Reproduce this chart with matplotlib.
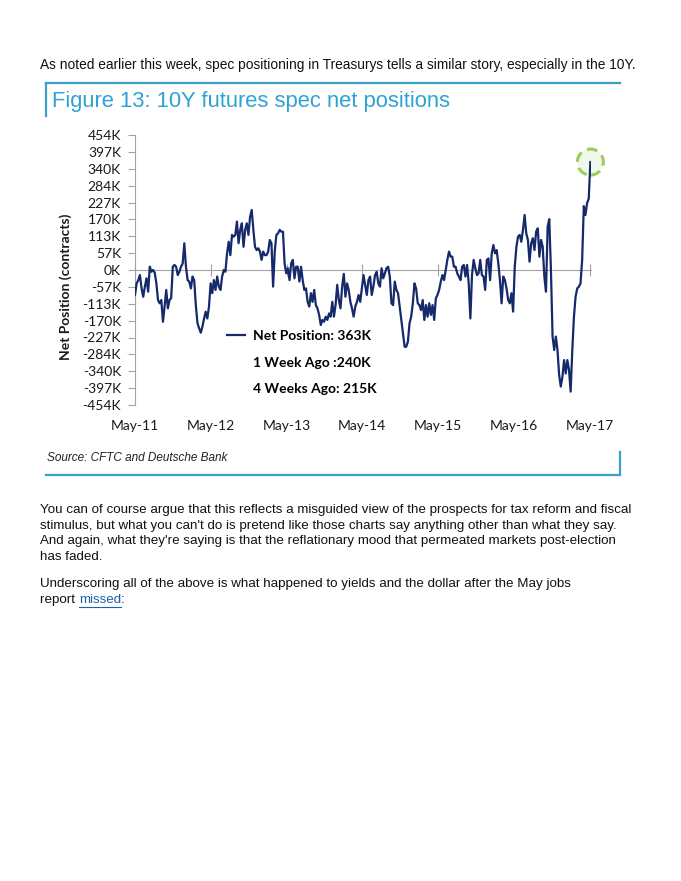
import numpy as np
import pandas as pd
import matplotlib
matplotlib.use('Agg')
import matplotlib.pyplot as plt
import matplotlib.dates as mdates
import matplotlib.transforms as mtransforms
from matplotlib.lines import Line2D
from matplotlib.patches import Circle

# ── data (net position, thousands of contracts) ─────────────
net_k = [
    -84, -45, -34, -17, -62, -90, -56, -28, -73, 11, -6, 0, -9, -45, -101, -112,
    -101, -174, -123, -67, -129, -101, -95, 11, 17, 11, -17, -6, 11, 22, 90, 11,
    -34, -39, -62, -22, -34, -118, -179, -196, -211, -191, -163, -140, -163, -123,
    -45, -78, -34, -67, -22, -56, -67, -22, 0, -6, 56, 95, 50, 118, 112, 118, 163,
    90, 135, 157, 78, 135, 157, 118, 179, 202, 135, 78, 67, 73, 62, 34, 62, 50, 50,
    62, 101, 90, -56, 62, 118, 123, 135, 129, 129, 22, -11, 6, -34, 22, 34, -28,
    11, 11, -39, 11, -34, -67, -62, -107, -123, -78, -107, -67, -118, -129, -151,
    -185, -168, -174, -157, -168, -146, -157, -107, -157, -118, -50, -101, -129,
    -56, -13, -90, -45, -67, -107, -129, -157, -123, -107, -84, -107, -62, -17,
    -50, -84, -34, -22, -84, -56, -17, -6, -45, -56, 6, -28, -11, 6, 11, -22, -112,
    -118, -39, -67, -78, -123, -168, -213, -258, -258, -241, -179, -157, -112, -45,
    -62, -112, -118, -135, -101, -168, -118, -157, -112, -151, -118, -168, -95,
    -84, -67, -39, -17, -34, 0, 34, 62, 45, 45, 11, 11, -11, -22, -34, 11, 17, -22,
    17, -45, -163, -17, 34, 6, -17, -11, 34, -17, -22, -67, 34, 39, -34, 56, 84,
    56, 67, 22, -34, -112, -22, -34, -62, -101, -112, -78, -140, 11, 78, 112, 118,
    95, 135, 185, 123, 101, 28, 90, 107, 67, 129, 140, 45, 101, 78, -22, -73, 146,
    171, 0, -224, -269, -224, -269, -353, -392, -359, -303, -348, -303, -336, -409,
    -269, -157, -90, -62, -56, -45, 34, 215, 185, 225, 240, 363,
]
start_date = '2011-05-01'
end_date = '2017-05-05'
tick_years = [2011, 2012, 2013, 2014, 2015, 2016, 2017]
tick_labels = ['May-11', 'May-12', 'May-13', 'May-14', 'May-15', 'May-16', 'May-17']
y_ticks = np.arange(-8, 9) * 56.75
y_labels = ['-454K', '-397K', '-340K', '-284K', '-227K', '-170K', '-113K', '-57K', '0K',
            '57K', '113K', '170K', '227K', '284K', '340K', '397K', '454K']
legend_rows = ['Net Position: 363K', '1 Week Ago :240K', '4 Weeks Ago: 215K']

dates = pd.date_range(start_date, end_date, periods=len(net_k))
xs = mdates.date2num(dates.to_pydatetime())
x_ticks = mdates.date2num([pd.Timestamp(f'{y}-05-01').to_pydatetime() for y in tick_years])

W, H = 681, 881
def fx(px): return px / W
def fy(py): return 1 - py / H

NAVY = '#15296b'
GRAY = '#a3a3a3'
BLUE = '#3a9fcb'
PAGE_FONT = ['Liberation Sans']
CHART_FONT = ['Lato', 'DejaVu Sans']
BODY_SIZE = 9.65

fig = plt.figure(figsize=(W / 100, H / 100), dpi=100)
fig.patch.set_facecolor('white')

# ── page text ───────────────────────────────────────────────
fig.text(fx(40), fy(65), 'As noted earlier this week, spec positioning in Treasurys tells a similar story, especially in the 10Y.',
         family=PAGE_FONT, fontsize=9.9, color='#111111', va='center', ha='left')

# figure frame
fig.add_artist(Line2D([fx(46), fx(620)], [fy(83), fy(83)], color=BLUE, lw=1.6))
fig.add_artist(Line2D([fx(46), fx(46)], [fy(83), fy(116)], color=BLUE, lw=1.6))
fig.add_artist(Line2D([fx(46), fx(620)], [fy(475), fy(475)], color=BLUE, lw=1.6))
fig.add_artist(Line2D([fx(620), fx(620)], [fy(452), fy(475)], color=BLUE, lw=1.6))
fig.text(fx(52), fy(101), 'Figure 13: 10Y futures spec net positions', family=PAGE_FONT,
         fontsize=15.8, color='#2fa2d4', va='center', ha='left')
fig.text(fx(47), fy(458), 'Source: CFTC and Deutsche Bank', family=PAGE_FONT, style='italic',
         fontsize=8.5, color='#222222', va='center', ha='left')

# ── chart ───────────────────────────────────────────────────
ax = fig.add_axes([fx(135), fy(405), fx(591) - fx(135), fy(135) - fy(405)])
ax.plot(xs, net_k, color=NAVY, lw=1.6, zorder=3, solid_joinstyle='round')
ax.set_xlim(xs[0], xs[-1] + 3)
ax.set_ylim(-454, 454)

for s in ['top', 'right']:
    ax.spines[s].set_visible(False)
ax.spines['left'].set_color(GRAY)
ax.spines['bottom'].set_position(('data', 0))
ax.spines['bottom'].set_color(GRAY)

ax.set_yticks(y_ticks, labels=y_labels)
ax.tick_params(axis='y', direction='out', length=5, color=GRAY, pad=5,
               labelsize=10, labelcolor='#1a1a1a')
for lab in ax.get_yticklabels():
    lab.set_family(CHART_FONT)
ax.set_xticks(x_ticks)
ax.tick_params(axis='x', direction='inout', length=8, color=GRAY, labelbottom=False)

sec = ax.secondary_xaxis(0.0)
sec.set_xticks(x_ticks, labels=tick_labels)
sec.tick_params(length=0, pad=11, labelsize=10, labelcolor='#1a1a1a')
sec.spines['bottom'].set_visible(False)
for lab in sec.get_xticklabels():
    lab.set_family(CHART_FONT)

fig.text(fx(66), fy(287), 'Net Position (contracts)', rotation=90, family=CHART_FONT,
         fontweight='bold', fontsize=10, color='#1a1a1a', ha='center', va='center')

# highlight circle around the latest reading
trans = fig.dpi_scale_trans + mtransforms.ScaledTranslation(xs[-1], net_k[-1], ax.transData)
ax.add_patch(Circle((0, 0), 0.13, transform=trans, facecolor='#f1f7ea', edgecolor='#9ccd5e',
                    lw=2.2, linestyle=(0, (3.5, 2)), zorder=2, clip_on=False))

# legend-like annotation
handles = [Line2D([], [], color=NAVY, lw=1.6),
           Line2D([], [], color='none'),
           Line2D([], [], color='none')]
leg = ax.legend(handles, legend_rows, loc='upper left', frameon=False,
                bbox_to_anchor=(fx(227), fy(330)), bbox_transform=fig.transFigure,
                borderpad=0, borderaxespad=0, handlelength=1.3, handletextpad=0.55,
                labelspacing=1.05, prop={'family': CHART_FONT, 'weight': 'bold', 'size': 10})

# ── body text ───────────────────────────────────────────────
body = ["You can of course argue that this reflects a misguided view of the prospects for tax reform and fiscal",
        "stimulus, but what you can't do is pretend like those charts say anything other than what they say.",
        "And again, what they're saying is that the reflationary mood that permeated markets post-election",
        "has faded."]
for i, line in enumerate(body):
    fig.text(fx(40), fy(510 + i * 15.6), line, family=PAGE_FONT, fontsize=BODY_SIZE,
             color='#111111', va='center', ha='left')
fig.text(fx(40), fy(584), 'Underscoring all of the above is what happened to yields and the dollar after the May jobs',
         family=PAGE_FONT, fontsize=BODY_SIZE, color='#111111', va='center', ha='left')
t1 = fig.text(fx(40), fy(600), 'report ', family=PAGE_FONT, fontsize=BODY_SIZE, color='#111111',
              va='center', ha='left')
fig.canvas.draw()
r = fig.canvas.get_renderer()
x_link = t1.get_window_extent(r).x1 / W
t2 = fig.text(x_link, fy(600), 'missed', family=PAGE_FONT, fontsize=BODY_SIZE, color='#1d5fa8',
              va='center', ha='left')
bb = t2.get_window_extent(r)
fig.add_artist(Line2D([bb.x0 / W, bb.x1 / W], [fy(606.5), fy(606.5)], color='#1d5fa8', lw=0.8))
fig.text(bb.x1 / W, fy(600), ':', family=PAGE_FONT, fontsize=BODY_SIZE, color='#111111',
         va='center', ha='left')

fig.savefig('out.png', dpi=100, facecolor='white')
